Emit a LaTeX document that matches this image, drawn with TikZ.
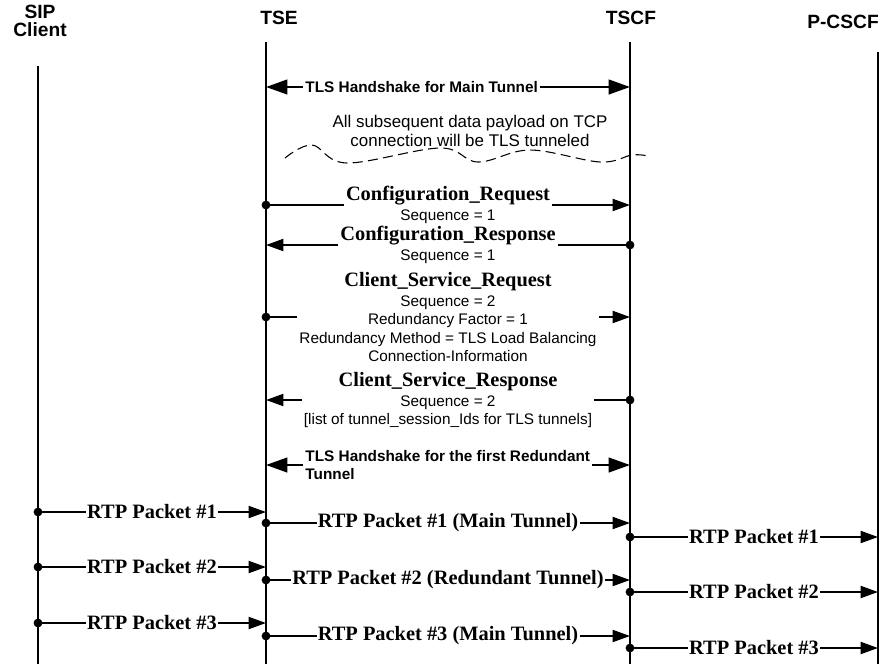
\documentclass[tikz,border=0pt]{standalone}
\usepackage{fontspec}
\setmainfont{Liberation Serif}
\setsansfont{Liberation Sans}
\usetikzlibrary{arrows.meta}
\newcommand{\msgname}[1]{{\rmfamily\bfseries\fontsize{15.3}{18}\selectfont #1}}

\begin{document}
\begin{tikzpicture}[
  x=0.75pt, y=-0.75pt,
  >={Triangle[length=13pt,width=9pt]},
  actor/.style={
    font=\sffamily\bfseries\fontsize{14.4}{13.5}\selectfont,
    align=center,
    inner sep=0pt
  },
  lifeline/.style={line width=1pt},
  msg/.style={line width=1.4pt,{Circle[length=6.5pt]}->,shorten <=-3.25pt},
  handshake/.style={line width=1.6pt,{Triangle[length=16pt,width=11pt]}-{Triangle[length=16pt,width=11pt]}},
  msgtext/.style={
    fill=white,
    align=center,
    inner xsep=1.5pt,
    inner ysep=0.5pt,
    font=\sffamily\fontsize{11.5}{13.8}\selectfont
  },
  hstext/.style={
    fill=white,
    align=left,
    anchor=west,
    inner xsep=1.5pt,
    inner ysep=0.5pt,
    font=\sffamily\bfseries\fontsize{11.5}{12.8}\selectfont
  },
  rtptext/.style={
    fill=white,
    inner xsep=1pt,
    inner ysep=0pt,
    font=\rmfamily\bfseries\fontsize{15.3}{18}\selectfont
  },
  note/.style={align=center,font=\sffamily\fontsize{12.7}{14.3}\selectfont}
]
  \useasboundingbox (0,0) rectangle (881,664);

  % Entities and their lifelines.
  \node[actor] (sip) at (40,21) {SIP\\Client};
  \node[actor] (tse) at (279,18) {TSE};
  \node[actor] (tscf) at (631,18) {TSCF};
  \node[actor] (pcscf) at (843,22) {P-CSCF};

  \coordinate (sip-top) at (38,66);
  \coordinate (tse-top) at (266,42);
  \coordinate (tscf-top) at (630,42);
  \coordinate (pcscf-top) at (878,52);
  \coordinate (sip-end) at (38,664);
  \coordinate (tse-end) at (266,664);
  \coordinate (tscf-end) at (630,664);
  \coordinate (pcscf-end) at (878,664);

  \draw[lifeline] (sip-top) -- (sip-end);
  \draw[lifeline] (tse-top) -- (tse-end);
  \draw[lifeline] (tscf-top) -- (tscf-end);
  \draw[lifeline] (pcscf-top) -- (pcscf-end);

  % Rows of the message sequence.
  \coordinate (hsmain) at (0,87);
  \coordinate (confreq) at (0,205);
  \coordinate (confresp) at (0,245);
  \coordinate (csreq) at (0,317);
  \coordinate (csresp) at (0,400);
  \coordinate (hsred) at (0,465);

  % Main tunnel set-up between TSE and TSCF.
  \draw[handshake] (tse-top |- hsmain) -- (tscf-top |- hsmain)
    node[hstext,pos=0.1] {TLS Handshake for Main Tunnel};

  \node[note] (tunneled) at (470,131) {All subsequent data payload on TCP\\connection will be TLS tunneled};
  \draw[line width=0.8pt,dash pattern=on 7.5pt off 4pt] plot[smooth,tension=0.6] coordinates {
    (285,158) (312,145) (347,163) (440,148) (478,162) (530,150) (600,162) (632,155) (648,156)};

  \draw[msg] (tse-top |- confreq) -- (tscf-top |- confreq)
    node[msgtext,midway] {\msgname{Configuration\_Request}\\[1pt]Sequence = 1};
  \draw[msg] (tscf-top |- confresp) -- (tse-top |- confresp)
    node[msgtext,midway] {\msgname{Configuration\_Response}\\[1pt]Sequence = 1};
  \draw[msg] (tse-top |- csreq) -- (tscf-top |- csreq)
    node[msgtext,midway] {\msgname{Client\_Service\_Request}\\[1pt]Sequence = 2\\Redundancy Factor = 1\\Redundancy Method = TLS Load Balancing\\Connection-Information};
  \draw[msg] (tscf-top |- csresp) -- (tse-top |- csresp)
    node[msgtext,midway] {\msgname{Client\_Service\_Response}\\[1pt]Sequence = 2\\{[list of tunnel\_session\_Ids for TLS tunnels]}};

  \draw[handshake] (tse-top |- hsred) -- (tscf-top |- hsred)
    node[hstext,pos=0.1] {TLS Handshake for the first Redundant\\Tunnel};

  % Media packets relayed through the tunnels.
  \coordinate (rtp1a) at (0,512);
  \coordinate (rtp1b) at (0,523);
  \coordinate (rtp1c) at (0,537);
  \coordinate (rtp2a) at (0,567);
  \coordinate (rtp2b) at (0,580);
  \coordinate (rtp2c) at (0,592);
  \coordinate (rtp3a) at (0,623);
  \coordinate (rtp3b) at (0,636);
  \coordinate (rtp3c) at (0,648);

  \draw[msg] (sip-top |- rtp1a) -- (tse-top |- rtp1a) node[rtptext,midway] {RTP Packet \#1};
  \draw[msg] (tse-top |- rtp1b) -- (tscf-top |- rtp1b) node[rtptext,midway] {RTP Packet \#1 (Main Tunnel)};
  \draw[msg] (tscf-top |- rtp1c) -- (pcscf-top |- rtp1c) node[rtptext,midway] {RTP Packet \#1};

  \draw[msg] (sip-top |- rtp2a) -- (tse-top |- rtp2a) node[rtptext,midway] {RTP Packet \#2};
  \draw[msg] (tse-top |- rtp2b) -- (tscf-top |- rtp2b) node[rtptext,midway] {RTP Packet \#2 (Redundant Tunnel)};
  \draw[msg] (tscf-top |- rtp2c) -- (pcscf-top |- rtp2c) node[rtptext,midway] {RTP Packet \#2};

  \draw[msg] (sip-top |- rtp3a) -- (tse-top |- rtp3a) node[rtptext,midway] {RTP Packet \#3};
  \draw[msg] (tse-top |- rtp3b) -- (tscf-top |- rtp3b) node[rtptext,midway] {RTP Packet \#3 (Main Tunnel)};
  \draw[msg] (tscf-top |- rtp3c) -- (pcscf-top |- rtp3c) node[rtptext,midway] {RTP Packet \#3};
\end{tikzpicture}
\end{document}
